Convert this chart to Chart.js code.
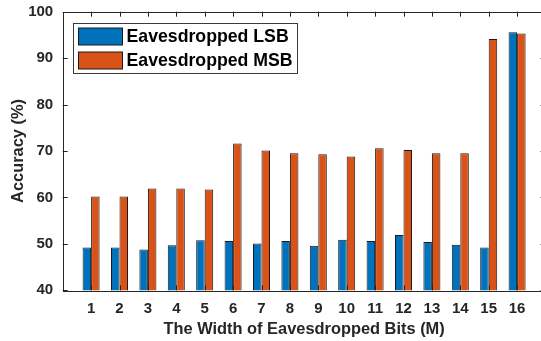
<!DOCTYPE html>
<html>
<head>
<meta charset="utf-8">
<script src="https://cdn.jsdelivr.net/npm/chart.js@4.4.1/dist/chart.umd.min.js"></script>
<style>
  html, body { margin: 0; padding: 0; background: #fff; overflow: hidden; }
  #chartAccuracy { display: block; }
</style>
</head>
<body>
<canvas id="chartAccuracy" width="550" height="341"></canvas>
<script>
// datos
const categorias = ['1', '2', '3', '4', '5', '6', '7', '8', '9', '10', '11', '12', '13', '14', '15', '16'];
const lsbData = [49.2, 49.2, 48.8, 49.7, 50.8, 50.6, 50.1, 50.6, 49.6, 50.9, 50.6, 51.9, 50.4, 49.8, 49.2, 95.6];
const msbData = [60.2, 60.2, 61.9, 61.9, 61.7, 71.6, 70.1, 69.5, 69.3, 68.8, 70.6, 70.2, 69.5, 69.5, 94.1, 95.3];
const yTicks = [40, 50, 60, 70, 80, 90, 100];

const fontFamily = '"Liberation Sans", Arial, Helvetica, sans-serif';
const textColor = '#262626';

// MATLAB deja un hueco de una categoria a cada lado (xlim 0..17)
const etiquetas = [''].concat(categorias, ['']);
const pad = arr => [null].concat(arr, [null]);

// fija el tamaño del eje y quita el relleno extra que Chart.js añade
const fijarEje = (prop, valor) => s => {
    s[prop] = valor;
    s.paddingTop = 0; s.paddingBottom = 0;
    s.paddingLeft = 0; s.paddingRight = 0;
};

// marco, ticks hacia dentro y leyenda dentro del area
const marcoPlugin = {
    id: 'marco',
    afterDraw(chart) {
        const ctx = chart.ctx;
        const a = chart.chartArea;
        const x = chart.scales.x;
        const y = chart.scales.y;
        const tl = 5;
        ctx.save();
        ctx.strokeStyle = textColor;
        ctx.lineWidth = 1;
        ctx.beginPath();
        for (let i = 1; i <= categorias.length; i++) {
            const px = Math.round(x.getPixelForValue(i)) + 0.5;
            ctx.moveTo(px, a.bottom); ctx.lineTo(px, a.bottom - tl);
            ctx.moveTo(px, a.top); ctx.lineTo(px, a.top + tl);
        }
        yTicks.forEach(v => {
            const py = Math.round(y.getPixelForValue(v)) + 0.5;
            ctx.moveTo(a.left, py); ctx.lineTo(a.left + tl, py);
            ctx.moveTo(a.right, py); ctx.lineTo(a.right - tl, py);
        });
        ctx.stroke();
        ctx.strokeRect(Math.round(a.left) + 0.5, Math.round(a.top) + 0.5,
            Math.round(a.right - a.left), Math.round(a.bottom - a.top));

        // leyenda
        const lx = Math.round(a.left + 10.5) + 0.5;
        const ly = Math.round(a.top + 11) + 0.5;
        ctx.fillStyle = '#fff';
        ctx.fillRect(lx, ly, 224, 50);
        ctx.strokeStyle = '#3a3a3a';
        ctx.strokeRect(lx, ly, 224, 50);
        ctx.font = 'bold 17.7px ' + fontFamily;
        ctx.textBaseline = 'middle';
        chart.data.datasets.forEach((ds, i) => {
            const sy = ly + 4.5 + i * 24;
            ctx.fillStyle = ds.backgroundColor;
            ctx.fillRect(lx + 5, sy, 44, 17);
            ctx.strokeStyle = '#1a1a1a';
            ctx.strokeRect(lx + 5, sy, 44, 17);
            ctx.fillStyle = '#000';
            ctx.fillText(ds.label, lx + 53, sy + 9);
        });
        ctx.restore();
    }
};

document.addEventListener('DOMContentLoaded', function () {
    try {
        const chartElement = document.getElementById('chartAccuracy');
        new Chart(chartElement, {
            type: 'bar',
            data: {
                labels: etiquetas,
                datasets: [{
                    label: 'Eavesdropped LSB',
                    data: pad(lsbData),
                    backgroundColor: '#0072BD',
                    borderColor: '#1a1a1a',
                    borderWidth: 1,
                    categoryPercentage: 0.6,
                    barPercentage: 1.0
                }, {
                    label: 'Eavesdropped MSB',
                    data: pad(msbData),
                    backgroundColor: '#D95319',
                    borderColor: '#1a1a1a',
                    borderWidth: 1,
                    categoryPercentage: 0.6,
                    barPercentage: 1.0
                }]
            },
            options: {
                responsive: false,
                devicePixelRatio: 1,
                animation: false,
                layout: { padding: { top: 11.7, right: 4.5, left: 0, bottom: 0 } },
                plugins: {
                    legend: { display: false },
                    tooltip: { enabled: false }
                },
                scales: {
                    x: {
                        offset: false,
                        grid: { display: false, drawTicks: false },
                        border: { display: false },
                        ticks: {
                            autoSkip: false,
                            maxRotation: 0,
                            padding: 10,
                            color: textColor,
                            font: { family: fontFamily, size: 15, weight: 'bold' }
                        },
                        title: {
                            display: true,
                            text: 'The Width of Eavesdropped Bits (M)',
                            color: textColor,
                            padding: { top: 0, bottom: 1.5 },
                            font: { family: fontFamily, size: 16.4, weight: 'bold' }
                        },
                        afterFit: fijarEje('height', 50.7)
                    },
                    y: {
                        min: 40,
                        max: 100,
                        grid: { display: false, drawTicks: false },
                        border: { display: false },
                        ticks: {
                            stepSize: 10,
                            padding: 9.5,
                            color: textColor,
                            font: { family: fontFamily, size: 15, weight: 'bold' }
                        },
                        title: {
                            display: true,
                            text: 'Accuracy (%)',
                            color: textColor,
                            padding: { top: 8.4, bottom: 0 },
                            font: { family: fontFamily, size: 16.4, weight: 'bold' }
                        },
                        afterFit: fijarEje('width', 62.7)
                    }
                }
            },
            plugins: [marcoPlugin]
        });
    } catch (error) {
        console.error('Error al crear la grafica:', error);
    }
});
</script>
</body>
</html>
